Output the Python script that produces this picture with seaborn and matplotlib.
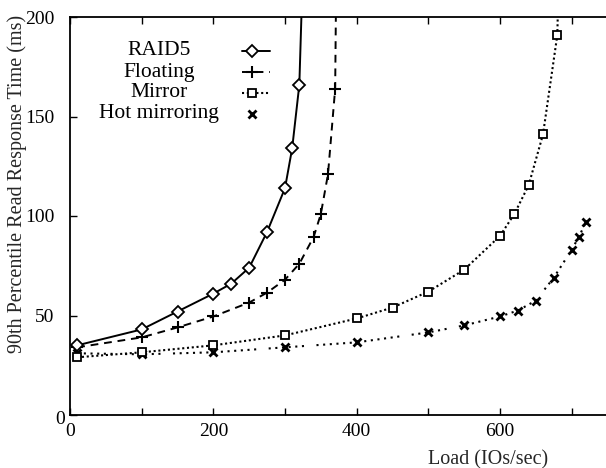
import matplotlib
matplotlib.use("Agg")
import matplotlib.pyplot as plt
from matplotlib.transforms import ScaledTranslation
import seaborn as sns
import pandas as pd

# Measured 90th-percentile read response time versus offered load
raid5_load = [10, 100, 150, 200, 225, 250, 275, 300, 310, 320, 325]
raid5_ms = [35, 43, 52, 61, 66, 74, 92, 114, 134, 166, 225]

floating_load = [10, 100, 150, 200, 250, 275, 300, 320, 340, 350, 360, 370, 372]
floating_ms = [34, 39, 44, 49.5, 56.5, 61.5, 68, 76, 89.5, 101, 121, 164, 240]

mirror_load = [10, 100, 200, 300, 400, 450, 500, 550, 600, 620, 640, 660, 680, 683]
mirror_ms = [29, 31.5, 35, 40, 48.5, 54, 62, 73, 90, 101, 115.5, 141, 191, 240]

hot_load = [10, 100, 200, 300, 400, 500, 550, 600, 625, 650, 675, 700, 710, 720]
hot_ms = [31, 30.5, 31.5, 34, 36.5, 41.5, 45, 49.5, 52.5, 57.5, 69, 83, 89.5, 97]

series_names = ["RAID5", "Floating", "Mirror", "Hot mirroring"]
x_tick_labels = ["0", "200", "400", "600"]
y_tick_labels = ["0", "50", "100", "150", "200"]

sns.set_theme(style="ticks")
plt.rcParams["font.family"] = ["Liberation Serif", "DejaVu Serif"]
plt.rcParams["axes.linewidth"] = 1.3

fig = plt.figure(figsize=(6.06, 4.68), dpi=100)
ax = fig.add_axes([70 / 606, 53 / 468, 537.5 / 606, 398 / 468])

hot_dots = (0, (1.0, 2.2, 1.0, 2.2, 1.0, 2.2, 1.0, 2.2, 1.0, 2.2, 1.0, 6.0))
styles = {
    "RAID5": dict(marker="D", markersize=6.5, linestyle="-", mfc="white",
                  mew=1.3, lw=1.4),
    "Floating": dict(marker="+", markersize=9, linestyle=(0, (4.0, 3.0)),
                     mfc="none", mew=1.5, lw=1.4),
    "Mirror": dict(marker="s", markersize=5.5, linestyle=(0, (1.0, 1.3)),
                   mfc="white", mew=1.3, lw=1.5),
    "Hot mirroring": dict(marker="x", markersize=6, linestyle=hot_dots,
                          mfc="none", mew=2.0, lw=1.5),
}

frames = {
    "RAID5": pd.DataFrame({"load": raid5_load, "ms": raid5_ms}),
    "Floating": pd.DataFrame({"load": floating_load, "ms": floating_ms}),
    "Mirror": pd.DataFrame({"load": mirror_load, "ms": mirror_ms}),
    "Hot mirroring": pd.DataFrame({"load": hot_load, "ms": hot_ms}),
}

for name in reversed(series_names):
    st = styles[name]
    sns.lineplot(data=frames[name], x="load", y="ms", ax=ax, color="black",
                 sort=False, estimator=None, legend=False, mec="black",
                 **st)

ax.set_xlim(0, 750)
ax.set_ylim(0, 200)
ax.set_xticks([0, 200, 400, 600])
ax.set_xticklabels(x_tick_labels)
ax.set_xticks([100, 300, 500, 700], minor=True)
ax.set_yticks([0, 50, 100, 150, 200])
ax.set_yticklabels(y_tick_labels)

ax.tick_params(which="both", direction="in", top=True, right=False,
               length=5, width=1.0, labelsize=14, colors="black")
ax.tick_params(axis="y", pad=11)
ax.tick_params(axis="x", pad=6)
ax.spines["right"].set_visible(False)
for sp in ax.spines.values():
    sp.set_color("black")

# the zero label on the y axis sits closer to the spine
zero_lbl = ax.get_yticklabels()[0]
zero_lbl.set_transform(zero_lbl.get_transform()
                       + ScaledTranslation(0.10, -0.02, fig.dpi_scale_trans))

ax.set_xlabel("Load (IOs/sec)", fontsize=14.5)
ax.xaxis.set_label_coords(0.778, -0.088)
ax.set_ylabel("90th Percentile Read Response Time (ms)", fontsize=14.5)
ax.yaxis.set_label_coords(-0.080, 0.58)

# Key: centred names with a short sample of each line and marker
text_x = 0.1656
text_y = [0.9045, 0.8505, 0.799, 0.745]
glyph_y = [0.9146, 0.8626, 0.8098, 0.7563]
for name, ty, gy in zip(series_names, text_y, glyph_y):
    ax.text(text_x, ty, name, transform=ax.transAxes, ha="center",
            va="baseline", fontsize=15.5, color="black")
    st = dict(styles[name])
    if name != "Hot mirroring":
        ax.plot([0.320, 0.372], [gy, gy], transform=ax.transAxes,
                color="black", linestyle=st["linestyle"], lw=st["lw"],
                clip_on=False)
    ax.plot([0.339], [gy], transform=ax.transAxes, color="black",
            linestyle="none", marker=st["marker"], markersize=st["markersize"],
            mfc=st["mfc"], mec="black", mew=st["mew"], clip_on=False)

fig.savefig("out.png", dpi=100)
